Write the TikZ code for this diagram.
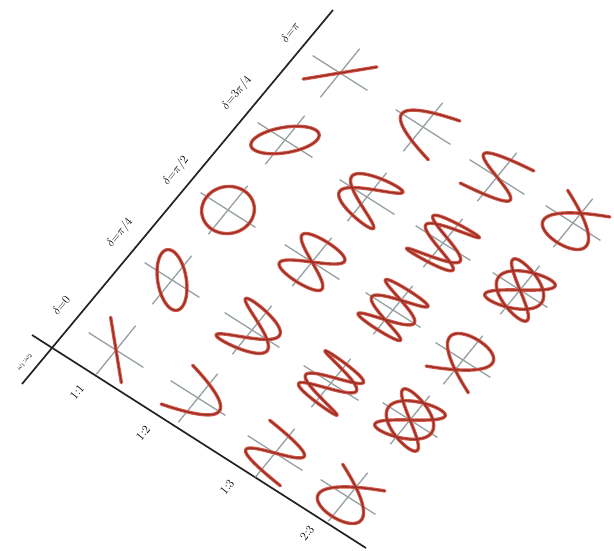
\documentclass[tikz,border=0pt]{standalone}
\usepackage{amsmath}
\definecolor{curvered}{RGB}{212,88,70}
\definecolor{curvedark}{RGB}{150,45,40}
\definecolor{axisgray}{RGB}{150,160,162}
\definecolor{linedark}{RGB}{35,35,35}
\tikzset{
  axisln/.style={draw=axisgray, line width=1.3pt},
  curve/.style={draw=curvedark, line width=1.3pt, line join=round, line cap=round,
    preaction={draw=curvered, line width=3.4pt, line join=round, line cap=round}},
  rule/.style={draw=linedark, line width=1.7pt},
  lab/.style={rotate=51, inner sep=0pt, text=black, font=\fontsize{11.5}{12}\selectfont}
}
\newcommand\lissfig[6]{%
  \coordinate (#1) at (#2,#3);
  \begin{scope}[shift={(#1)}]
    \draw[axisln] (-19.7,24.25) -- (19.7,-24.25);
    \draw[axisln] (-27.4,-17.4) -- (27.4,17.4);
    \draw[curve] plot[domain=0:360, samples=361]
      ({15.75*cos(#4*\x) - 21.1*cos(#5*\x+#6)}, {-19.4*cos(#4*\x) - 13.35*cos(#5*\x+#6)});
  \end{scope}}
\begin{document}
\begin{tikzpicture}[x=1pt,y=-1pt]
\useasboundingbox[fill=white] (0,0) rectangle (614,550);
% rules
\coordinate (ta) at (22,384);
\coordinate (tb) at (333,10);
\coordinate (ra) at (32,335);
\coordinate (rb) at (366,548);
\draw[rule] (ta) -- (tb);
\draw[rule] (ra) -- (rb);
% phase labels
\node[lab] (d0) at (61,305) {$\delta{=}0$};
\node[lab] (d1) at (120,233) {$\delta{=}\pi/4$};
\node[lab] (d2) at (176,171) {$\delta{=}\pi/2$};
\node[lab] (d3) at (237,93) {$\delta{=}3\pi/4$};
\node[lab] (d4) at (290,32) {$\delta{=}\pi$};
% ratio labels
\node[lab] (r1) at (77,392) {$1{:}1$};
\node[lab] (r2) at (143,433) {$1{:}2$};
\node[lab] (r3) at (227,487) {$1{:}3$};
\node[lab] (r4) at (307,533) {$2{:}3$};
\node[lab, font=\fontsize{7.5}{8}\selectfont] (corner) at (25,362) {$\omega_1{:}\omega_2$};
% figures: row 1:1
\lissfig{f11}{116}{350}{1}{1}{0}
\lissfig{f12}{172}{280}{1}{1}{45}
\lissfig{f13}{228}{210}{1}{1}{90}
\lissfig{f14}{285}{140}{1}{1}{135}
\lissfig{f15}{340}{73}{1}{1}{180}
% row 1:2
\lissfig{f21}{198}{398}{1}{2}{0}
\lissfig{f22}{252}{330}{1}{2}{45}
\lissfig{f23}{312}{262}{1}{2}{90}
\lissfig{f24}{367}{197}{1}{2}{135}
\lissfig{f25}{423}{127}{1}{2}{180}
% row 1:3
\lissfig{f31}{275}{453}{1}{3}{0}
\lissfig{f32}{331}{383}{1}{3}{45}
\lissfig{f33}{393}{310}{1}{3}{90}
\lissfig{f34}{443}{243}{1}{3}{135}
\lissfig{f35}{497}{177}{1}{3}{180}
% row 2:3
\lissfig{f41}{348}{497}{2}{3}{0}
\lissfig{f42}{410}{420}{2}{3}{45}
\lissfig{f43}{463}{360}{2}{3}{90}
\lissfig{f44}{520}{290}{2}{3}{135}
\lissfig{f45}{573}{223}{2}{3}{180}
\end{tikzpicture}
\end{document}
